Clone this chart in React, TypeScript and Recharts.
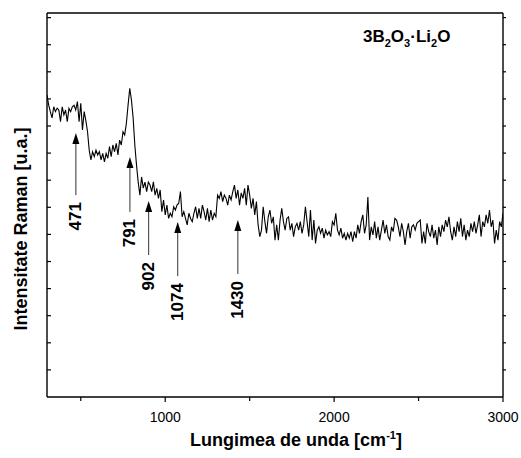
import { LineChart, Line, XAxis, YAxis, ReferenceLine, ReferenceDot } from 'recharts'

const FONT = "Arial, 'Liberation Sans', Helvetica, sans-serif"

// Raman shift [cm-1]
const wavenumbers = [
  300, 310, 320, 330, 340, 350, 360, 370, 380, 390,
  400, 410, 420, 430, 440, 450, 460, 470, 480, 490,
  500, 510, 520, 530, 540, 550, 560, 570, 580, 590,
  600, 610, 620, 630, 640, 650, 660, 670, 680, 690,
  700, 710, 720, 730, 740, 750, 760, 770, 780, 790,
  800, 810, 820, 830, 840, 850, 860, 870, 880, 890,
  900, 910, 920, 930, 940, 950, 960, 970, 980, 990,
  1000, 1010, 1020, 1030, 1040, 1050, 1060, 1070, 1080, 1090,
  1100, 1110, 1120, 1130, 1140, 1150, 1160, 1170, 1180, 1190,
  1200, 1210, 1220, 1230, 1240, 1250, 1260, 1270, 1280, 1290,
  1300, 1310, 1320, 1330, 1340, 1350, 1360, 1370, 1380, 1390,
  1400, 1410, 1420, 1430, 1440, 1450, 1460, 1470, 1480, 1490,
  1500, 1510, 1520, 1530, 1540, 1550, 1560, 1570, 1580, 1590,
  1600, 1610, 1620, 1630, 1640, 1650, 1660, 1670, 1680, 1690,
  1700, 1710, 1720, 1730, 1740, 1750, 1760, 1770, 1780, 1790,
  1800, 1810, 1820, 1830, 1840, 1850, 1860, 1870, 1880, 1890,
  1900, 1910, 1920, 1930, 1940, 1950, 1960, 1970, 1980, 1990,
  2000, 2010, 2020, 2030, 2040, 2050, 2060, 2070, 2080, 2090,
  2100, 2110, 2120, 2130, 2140, 2150, 2160, 2170, 2180, 2190,
  2200, 2210, 2220, 2230, 2240, 2250, 2260, 2270, 2280, 2290,
  2300, 2310, 2320, 2330, 2340, 2350, 2360, 2370, 2380, 2390,
  2400, 2410, 2420, 2430, 2440, 2450, 2460, 2470, 2480, 2490,
  2500, 2510, 2520, 2530, 2540, 2550, 2560, 2570, 2580, 2590,
  2600, 2610, 2620, 2630, 2640, 2650, 2660, 2670, 2680, 2690,
  2700, 2710, 2720, 2730, 2740, 2750, 2760, 2770, 2780, 2790,
  2800, 2810, 2820, 2830, 2840, 2850, 2860, 2870, 2880, 2890,
  2900, 2910, 2920, 2930, 2940, 2950, 2960, 2970, 2980, 2990,
  3000,
]

// intensity [u.a.], one unit per y tick
const intensity = [
  11.14, 10.77, 10.52, 10.30, 10.71, 10.53, 10.66, 10.59, 10.16, 10.71,
  10.41, 10.59, 10.16, 10.65, 10.53, 10.71, 10.77, 10.59, 10.90, 10.16,
  10.84, 9.85, 10.53, 10.20, 9.79, 9.10, 8.75, 9.05, 8.87, 9.11,
  8.93, 9.05, 8.75, 8.99, 8.68, 8.99, 8.81, 9.24, 8.87, 9.30,
  9.05, 9.36, 8.93, 9.48, 9.30, 9.79, 9.67, 10.10, 10.77, 11.39,
  10.96, 10.30, 9.30, 8.56, 7.93, 7.45, 8.12, 7.71, 7.93, 7.58,
  7.93, 7.82, 7.58, 7.94, 7.45, 7.70, 7.33, 7.64, 6.84, 7.27,
  6.72, 7.08, 6.59, 6.78, 6.65, 7.02, 6.90, 7.08, 7.15, 7.58,
  6.65, 6.84, 6.59, 6.35, 6.78, 6.59, 6.47, 6.78, 7.02, 6.59,
  6.96, 6.59, 7.08, 6.84, 6.53, 6.96, 6.47, 6.90, 6.53, 6.78,
  6.65, 7.45, 7.33, 7.58, 7.21, 7.45, 7.33, 7.08, 7.45, 7.27,
  7.58, 7.82, 7.33, 7.64, 7.08, 7.53, 7.33, 7.70, 7.08, 7.82,
  7.45, 6.96, 7.33, 6.72, 7.21, 6.35, 5.92, 6.16, 7.02, 6.47,
  6.04, 6.65, 6.90, 6.41, 6.65, 5.79, 6.35, 5.79, 6.53, 6.96,
  6.47, 6.16, 6.59, 6.65, 6.16, 6.41, 5.92, 6.28, 6.41, 6.16,
  6.47, 6.04, 6.35, 7.02, 6.47, 5.92, 6.90, 5.79, 6.53, 5.67,
  6.16, 6.28, 6.04, 6.23, 5.86, 6.16, 5.98, 6.10, 5.92, 6.47,
  6.35, 6.78, 6.16, 5.98, 6.23, 5.86, 6.04, 5.79, 6.04, 5.86,
  6.10, 5.73, 6.10, 5.86, 6.35, 6.04, 6.47, 6.72, 6.04, 6.35,
  7.38, 5.79, 6.28, 5.98, 6.47, 5.86, 6.28, 5.79, 6.16, 6.53,
  6.04, 6.35, 5.92, 5.79, 6.28, 6.10, 6.59, 6.53, 6.28, 5.92,
  6.41, 6.10, 5.61, 6.10, 6.41, 5.86, 6.28, 6.35, 6.16, 6.41,
  6.47, 6.53, 5.67, 6.10, 5.67, 6.41, 6.10, 5.92, 6.35, 5.86,
  6.16, 5.61, 6.28, 5.92, 6.35, 6.10, 6.53, 6.28, 6.65, 6.10,
  5.79, 6.28, 5.92, 6.47, 6.10, 6.59, 5.92, 6.35, 5.79, 6.16,
  5.92, 6.41, 6.10, 6.47, 6.04, 6.35, 6.72, 5.92, 6.47, 6.28,
  6.72, 6.41, 6.90, 6.28, 6.53, 5.67, 6.16, 5.79, 6.47, 6.28,
  6.78,
]

const xTicks = [500, 1000, 1500, 2000, 2500, 3000]
const xLabelled = [1000, 2000, 3000]
const yTicks = [1, 2, 3, 4, 5, 6, 7, 8, 9, 10, 11, 12, 13, 14]

// band assignments: arrow tip / tail intensity
const bandLabels = ['471', '791', '902', '1074', '1430']
const bandPositions = [471, 791, 902, 1074, 1430]
const bandTips = [9.74, 8.86, 7.23, 6.46, 6.53]
const bandTails = [7.45, 6.83, 5.24, 4.46, 4.54]

const axisStroke = { stroke: '#000', strokeWidth: 1.4 }

function BottomTick({ x, y, payload }: any) {
  const major = xLabelled.includes(payload.value)
  return (
    <g>
      <line x1={x} x2={x} y1={y} y2={y + (major ? 5 : 4)} stroke="#000" strokeWidth={1.2} />
      {major && (
        <text x={x} y={y + 25} textAnchor="middle" fontSize={14} fontFamily={FONT} fill="#000">
          {payload.value}
        </text>
      )}
    </g>
  )
}

function TopTick({ x, y }: any) {
  return <line x1={x} x2={x} y1={y} y2={y - 3} stroke="#000" strokeWidth={1.2} />
}

function LeftTick({ x, y }: any) {
  return <line x1={x} x2={x + 4} y1={y} y2={y} stroke="#000" strokeWidth={1.2} />
}

function RightTick({ x, y }: any) {
  return <line x1={x} x2={x + 3} y1={y} y2={y} stroke="#000" strokeWidth={1.2} />
}

export default function App() {
  const data = wavenumbers.map((w, i) => ({ w, v: intensity[i] }))

  return (
    <div style={{ position: 'absolute', left: 0, top: 0, width: 521, height: 458, background: '#fff' }}>
      <LineChart width={521} height={458} data={data} margin={{ top: 0, right: 0, bottom: 0, left: 0 }}>
        <XAxis
          dataKey="w"
          type="number"
          domain={[300, 3000]}
          ticks={xTicks}
          interval={0}
          allowDataOverflow
          height={61}
          tickSize={0}
          tickMargin={0}
          tickLine={false}
          axisLine={axisStroke}
          tick={(p: any) => <BottomTick {...p} />}
        />
        <XAxis
          xAxisId="top"
          orientation="top"
          type="number"
          domain={[300, 3000]}
          ticks={xTicks}
          interval={0}
          allowDataOverflow
          height={13}
          tickSize={0}
          tickMargin={0}
          tickLine={false}
          axisLine={axisStroke}
          tick={(p: any) => <TopTick {...p} />}
        />
        <YAxis
          type="number"
          domain={[0, 14.17]}
          ticks={yTicks}
          interval={0}
          allowDataOverflow
          width={47}
          tickSize={0}
          tickMargin={0}
          tickLine={false}
          axisLine={axisStroke}
          tick={(p: any) => <LeftTick {...p} />}
        />
        <YAxis
          yAxisId="right"
          orientation="right"
          type="number"
          domain={[0, 14.17]}
          ticks={yTicks}
          interval={0}
          allowDataOverflow
          width={18}
          tickSize={0}
          tickMargin={0}
          tickLine={false}
          axisLine={axisStroke}
          tick={(p: any) => <RightTick {...p} />}
        />
        <Line
          dataKey="v"
          type="linear"
          stroke="#000"
          strokeWidth={1.1}
          dot={false}
          isAnimationActive={false}
        />
        {bandPositions.map((b, i) => (
          <ReferenceLine
            key={`shaft-${i}`}
            segment={[{ x: b, y: bandTails[i] }, { x: b, y: bandTips[i] - 0.3 }]}
            stroke="#333"
            strokeWidth={1}
          />
        ))}
        {bandPositions.map((b, i) => (
          <ReferenceDot
            key={`head-${i}`}
            x={b}
            y={bandTips[i]}
            r={0}
            shape={(p: any) => (
              <polygon
                points={`${p.cx},${p.cy} ${p.cx - 3.5},${p.cy + 11} ${p.cx + 3.5},${p.cy + 11}`}
                fill="#000"
              />
            )}
          />
        ))}
        {bandPositions.map((b, i) => (
          <ReferenceDot
            key={`label-${i}`}
            x={b}
            y={bandTails[i]}
            r={0}
            shape={(p: any) => (
              <text
                x={p.cx}
                y={p.cy + 7}
                transform={`rotate(-90 ${p.cx} ${p.cy + 7})`}
                textAnchor="end"
                dominantBaseline="central"
                fontSize={17}
                fontWeight="bold"
                fontFamily={FONT}
                fill="#000"
              >
                {bandLabels[i]}
              </text>
            )}
          />
        ))}
      </LineChart>

      <svg
        width={521}
        height={458}
        style={{ position: 'absolute', left: 0, top: 0, pointerEvents: 'none' }}
        fontFamily={FONT}
        fontWeight="bold"
        fill="#000"
      >
        <text x={363} y={42} fontSize={17}>
          3B<tspan fontSize={11} dy={5}>2</tspan>
          <tspan dy={-5}>O</tspan>
          <tspan fontSize={11} dy={5}>3</tspan>
          <tspan dy={-5}>·Li</tspan>
          <tspan fontSize={11} dy={5}>2</tspan>
          <tspan dy={-5}>O</tspan>
        </text>
        <text x={296} y={446} fontSize={18} textAnchor="middle">
          Lungimea de unda [cm<tspan fontSize={11} dy={-7}>-1</tspan>
          <tspan dy={7}>]</tspan>
        </text>
        <text x={27} y={229} fontSize={18} textAnchor="middle" transform="rotate(-90 27 229)">
          Intensitate Raman [u.a.]
        </text>
      </svg>
    </div>
  )
}
